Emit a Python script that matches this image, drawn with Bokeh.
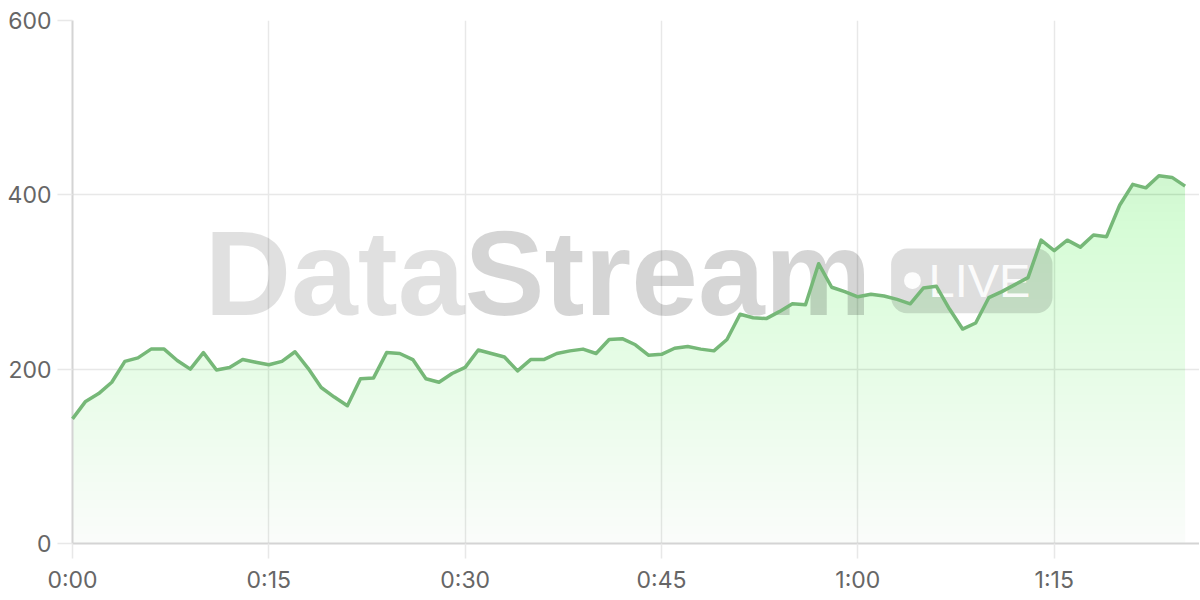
import numpy as np
from bokeh.plotting import figure
from bokeh.models import FixedTicker, Range1d, Label, BoxAnnotation
from bokeh.embed import file_html
from bokeh.resources import INLINE

# ---- data ----
minutes = list(range(86))
values = [143, 163, 172, 185, 209, 213, 223, 223, 210, 200,
          219, 199, 202, 211, 208, 205, 209, 220, 201, 179,
          168, 158, 189, 190, 219, 218, 211, 189, 185, 195,
          202, 222, 218, 214, 198, 211, 211, 218, 221, 223,
          218, 234, 235, 228, 216, 217, 224, 226, 223, 221,
          234, 263, 259, 258, 266, 275, 274, 321, 294, 289,
          283, 286, 284, 280, 275, 293, 295, 269, 246, 253,
          282, 289, 297, 305, 348, 336, 348, 340, 354, 352,
          388, 412, 408, 422, 420, 410]
x_ticks = [0, 15, 30, 45, 60, 75]
x_tick_labels = ["0:00", "0:15", "0:30", "0:45", "1:00", "1:15"]
y_ticks = [0, 200, 400, 600]

LINE = "#76b878"
FILL = "#76b878"
GRID = "#e8e8e8"
AXIS = "#d4d4d4"
LABEL = "#666666"
FONT = "Inter"

p = figure(width=1199, height=596, output_backend="svg", toolbar_location=None,
           x_range=Range1d(0, 86.1), y_range=Range1d(0, 600),
           min_border_left=72, min_border_right=0, min_border_top=20, min_border_bottom=52)
p.outline_line_color = None
p.background_fill_color = "white"

# gradient-like area fill (stacked translucent layers)
vals = np.array(values, dtype=float)
def A(h):
    return 0.04 + 0.28 * h / 600.0
p.varea(x=minutes, y1=np.zeros(len(vals)), y2=vals, fill_color=FILL, fill_alpha=A(0))
step = 10
lvl = step
while lvl < vals.max():
    a = 1 - (1 - A(lvl)) / (1 - A(lvl - step))
    p.varea(x=minutes, y1=np.full(len(vals), float(lvl)), y2=np.maximum(vals, lvl),
            fill_color=FILL, fill_alpha=a)
    lvl += step

# watermark
p.add_layout(Label(x=10.08, y=310.4, text="Data", text_font="Liberation Sans",
                   text_font_style="bold", text_font_size="120px", text_color="black",
                   text_alpha=0.12, text_align="left", text_baseline="alphabetic"))
p.add_layout(Label(x=29.95, y=310.4, text="Stream", text_font="Liberation Sans",
                   text_font_style="bold", text_font_size="120px", text_color="black",
                   text_alpha=0.165, text_align="left", text_baseline="alphabetic"))
p.add_layout(BoxAnnotation(left=62.54, right=74.87, bottom=264.2, top=338.4,
                           fill_color="black", fill_alpha=0.13, line_color=None,
                           border_radius=16))
p.add_layout(BoxAnnotation(left=63.53, right=64.81, bottom=292.1, top=311.3,
                           fill_color="white", fill_alpha=0.92, line_color=None,
                           border_radius=8))
p.add_layout(Label(x=65.4, y=301.2, text="LIVE", text_font="Liberation Sans",
                   text_font_size="47px", text_color="white", text_alpha=0.92,
                   text_align="left", text_baseline="alphabetic"))

# line on top
p.line(minutes, values, line_color=LINE, line_width=3.5, line_join="round",
       level="overlay")

# axes & grid
p.xaxis.ticker = FixedTicker(ticks=x_ticks)
p.xaxis.major_label_overrides = {t: l for t, l in zip(x_ticks, x_tick_labels)}
p.yaxis.ticker = FixedTicker(ticks=y_ticks)
p.xgrid.ticker = FixedTicker(ticks=x_ticks)
p.ygrid.ticker = FixedTicker(ticks=y_ticks)
for g in (p.xgrid, p.ygrid):
    g.grid_line_color = GRID
    g.grid_line_width = 1.5
for ax in (p.xaxis, p.yaxis):
    ax.axis_line_color = AXIS
    ax.axis_line_width = 2
    ax.major_tick_line_color = GRID
    ax.major_tick_line_width = 1.5
    ax.major_tick_out = 15
    ax.major_tick_in = 0
    ax.minor_tick_line_color = None
    ax.major_label_text_color = LABEL
    ax.major_label_text_font = FONT
    ax.major_label_text_font_size = "23px"
p.xaxis.major_label_standoff = 7
p.yaxis.major_label_standoff = 6

open("out.html", "w").write(file_html(p, INLINE))
